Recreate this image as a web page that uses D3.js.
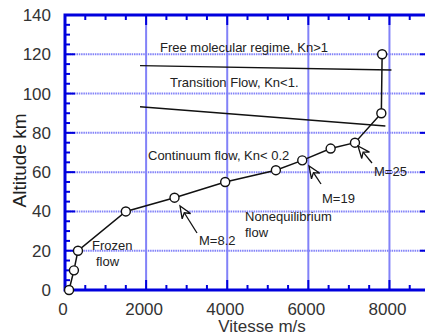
<!DOCTYPE html>
<html>
<head>
<meta charset="utf-8">
<script src="https://cdn.jsdelivr.net/npm/d3@7"></script>
<style>
  body { margin: 0; background: #fff; }
  svg { display: block; font-family: "Liberation Sans", Arial, sans-serif; }
</style>
</head>
<body>
<svg id="chart"></svg>
<script>
// trajectory points: speed (m/s) vs altitude (km)
const vitesse = [100, 220, 320, 1500, 2700, 3950, 5200, 5850, 6550, 7150, 7800, 7820]
const altitude = [0, 10, 20, 40, 47, 55, 61, 66, 72, 75, 90, 120]

// regime boundaries [speed, altitude]
const knBoundary1 = [[1850, 114.2], [8050, 112]]
const knBoundary2 = [[1850, 93.3], [7900, 83.5]]

const xTicks = [0, 2000, 4000, 6000, 8000]
const yTicks = [0, 20, 40, 60, 80, 100, 120, 140]

const width = 425
const height = 335
const margin = {top: 15, right: -5, bottom: 45, left: 65}

const axisBlue = "#0000dd"
const gridBlue = "#8282f8"

const svg = d3.select("#chart")
  .attr("width", width)
  .attr("height", height)

const x = d3.scaleLinear().domain([0, 9000]).range([margin.left, width - margin.right])
const y = d3.scaleLinear().domain([0, 140]).range([height - margin.bottom, margin.top])

// grid
svg.append("g")
  .selectAll("line")
  .data(xTicks.filter(d => d > 0))
  .join("line")
  .attr("x1", d => x(d)).attr("x2", d => x(d))
  .attr("y1", y(0)).attr("y2", y(140))
  .attr("stroke", gridBlue)
  .attr("stroke-width", 2)

svg.append("g")
  .selectAll("line")
  .data(yTicks.filter(d => d > 0 && d < 140))
  .join("line")
  .attr("x1", x(0)).attr("x2", x(9000))
  .attr("y1", d => y(d)).attr("y2", d => y(d))
  .attr("stroke", gridBlue)
  .attr("stroke-width", 2)
  .attr("stroke-dasharray", "1.5,0.8")

// axes with inward ticks
const minorX = d3.range(0, 9001, 500)
const minorY = d3.range(0, 141, 5)
const axisG = svg.append("g").attr("stroke", axisBlue)

const tickLen = (v, step) => v % step === 0 ? 10 : 5
axisG.selectAll(".tb").data(minorX).join("line")
  .attr("x1", d => x(d)).attr("x2", d => x(d))
  .attr("y1", y(0)).attr("y2", d => y(0) - tickLen(d, 2000))
  .attr("stroke-width", 2)
axisG.selectAll(".tt").data(minorX).join("line")
  .attr("x1", d => x(d)).attr("x2", d => x(d))
  .attr("y1", y(140)).attr("y2", d => y(140) + tickLen(d, 2000))
  .attr("stroke-width", 2)
axisG.selectAll(".tl").data(minorY).join("line")
  .attr("y1", d => y(d)).attr("y2", d => y(d))
  .attr("x1", x(0)).attr("x2", d => x(0) + tickLen(d, 20))
  .attr("stroke-width", 2)
axisG.selectAll(".tr").data(minorY).join("line")
  .attr("y1", d => y(d)).attr("y2", d => y(d))
  .attr("x1", x(9000)).attr("x2", d => x(9000) - tickLen(d, 20))
  .attr("stroke-width", 2)

axisG.append("rect")
  .attr("x", x(0)).attr("y", y(140))
  .attr("width", x(9000) - x(0)).attr("height", y(0) - y(140))
  .attr("fill", "none")
  .attr("stroke-width", 3)

// tick labels
svg.append("g")
  .selectAll("text")
  .data(yTicks)
  .join("text")
  .attr("x", 51).attr("y", d => y(d) + 6)
  .attr("text-anchor", "end")
  .attr("font-size", 17)
  .attr("fill", "#333")
  .text(d => d)

svg.append("g")
  .selectAll("text")
  .data(xTicks)
  .join("text")
  .attr("x", d => x(d) - 2).attr("y", 315)
  .attr("text-anchor", "middle")
  .attr("font-size", 17)
  .attr("fill", "#333")
  .text(d => d)

svg.append("text")
  .attr("x", 262).attr("y", 332)
  .attr("text-anchor", "middle")
  .attr("font-size", 17)
  .attr("fill", "#333")
  .text("Vitesse m/s")

svg.append("text")
  .attr("transform", `translate(26,${(y(0) + y(140)) / 2 + 8}) rotate(-90)`)
  .attr("text-anchor", "middle")
  .attr("font-size", 19)
  .attr("fill", "#222")
  .text("Altitude km")

// boundaries
const line = d3.line().x(d => x(d[0])).y(d => y(d[1]))
svg.selectAll(".kn").data([knBoundary1, knBoundary2]).join("path")
  .attr("d", line)
  .attr("fill", "none")
  .attr("stroke", "#111")
  .attr("stroke-width", 1.3)

// trajectory
const pts = vitesse.map((v, i) => [v, altitude[i]])
svg.append("path")
  .attr("d", line(pts))
  .attr("fill", "none")
  .attr("stroke", "#111")
  .attr("stroke-width", 1.5)

svg.append("g")
  .selectAll("circle")
  .data(pts)
  .join("circle")
  .attr("cx", d => x(d[0]))
  .attr("cy", d => y(d[1]))
  .attr("r", 4.5)
  .attr("fill", "#fff")
  .attr("stroke", "#111")
  .attr("stroke-width", 1.4)

// annotations
const notes = [
  {t: "Free molecular regime, Kn>1", x: 160, y: 52},
  {t: "Transition Flow, Kn<1.", x: 170, y: 87},
  {t: "Continuum flow, Kn< 0.2", x: 148, y: 160},
  {t: "Frozen", x: 92, y: 250},
  {t: "flow", x: 96, y: 266},
  {t: "Nonequilibrium", x: 245, y: 221},
  {t: "flow", x: 245, y: 237},
  {t: "M=8.2", x: 199, y: 245},
  {t: "M=19", x: 322, y: 203},
  {t: "M=25", x: 374, y: 176}
]
svg.append("g")
  .selectAll("text")
  .data(notes)
  .join("text")
  .attr("x", d => d.x).attr("y", d => d.y)
  .attr("font-size", 13)
  .attr("fill", "#222")
  .text(d => d.t)

// hollow arrows pointing at Mach points [tail, tip]
const arrows = [
  [[197, 233], [180, 206]],
  [[321, 184], [309, 166]],
  [[372, 163], [358, 146]]
]
const arrowG = svg.append("g").attr("stroke", "#111").attr("fill", "#fff").attr("stroke-width", 1.3)
arrows.forEach(([a, b]) => {
  const ang = Math.atan2(b[1] - a[1], b[0] - a[0])
  const g = arrowG.append("g").attr("transform", `translate(${b[0]},${b[1]}) rotate(${ang * 180 / Math.PI})`)
  const len = Math.hypot(b[0] - a[0], b[1] - a[1])
  g.append("line").attr("x1", -len).attr("x2", -8).attr("y1", 0).attr("y2", 0)
  g.append("path").attr("d", "M0,0 L-12,-5 L-8,0 L-12,5 Z")
})
</script>
</body>
</html>
